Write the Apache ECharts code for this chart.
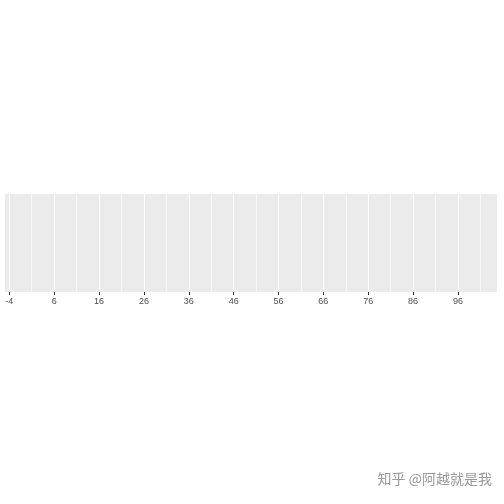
<!DOCTYPE html><html><head><meta charset="utf-8"><script src="https://cdn.jsdelivr.net/npm/echarts@6/dist/echarts.min.js"></script></head><body style="margin:0"><div id="c" style="width:504px;height:504px"></div><script>
const tickLabels=[-4,6,16,26,36,46,56,66,76,86,96];
const minorBreaks=[1,11,21,31,41,51,61,71,81,91,101];
const xMin=-4.96, xMax=104.7;
const lines=[].concat(tickLabels.map(v=>({xAxis:v,lineStyle:{width:1.1}})),minorBreaks.map(v=>({xAxis:v,lineStyle:{width:0.6}})));
const ch=echarts.init(document.getElementById('c'));
ch.setOption({animation:false,
grid:{left:5,right:7,top:194,bottom:212,show:true,backgroundColor:'#EBEBEB',borderWidth:0},
xAxis:{type:'value',min:xMin,max:xMax,splitLine:{show:false},axisLine:{show:false},
 axisTick:{show:true,customValues:tickLabels,length:3,lineStyle:{color:'#333'}},
 axisLabel:{customValues:tickLabels,color:'#4d4d4d',fontSize:9,fontFamily:'Liberation Sans',margin:5}},
yAxis:{type:'value',min:0,max:1,show:false},
series:[{type:'line',data:[],markLine:{silent:true,symbol:'none',label:{show:false},lineStyle:{color:'#fff',type:'solid'},data:lines}}],
graphic:[{type:'text',right:12,top:472,style:{text:'知乎 @阿越就是我',fill:'#999',font:'14px "Noto Sans CJK SC"'}}]
});
</script></body></html>
